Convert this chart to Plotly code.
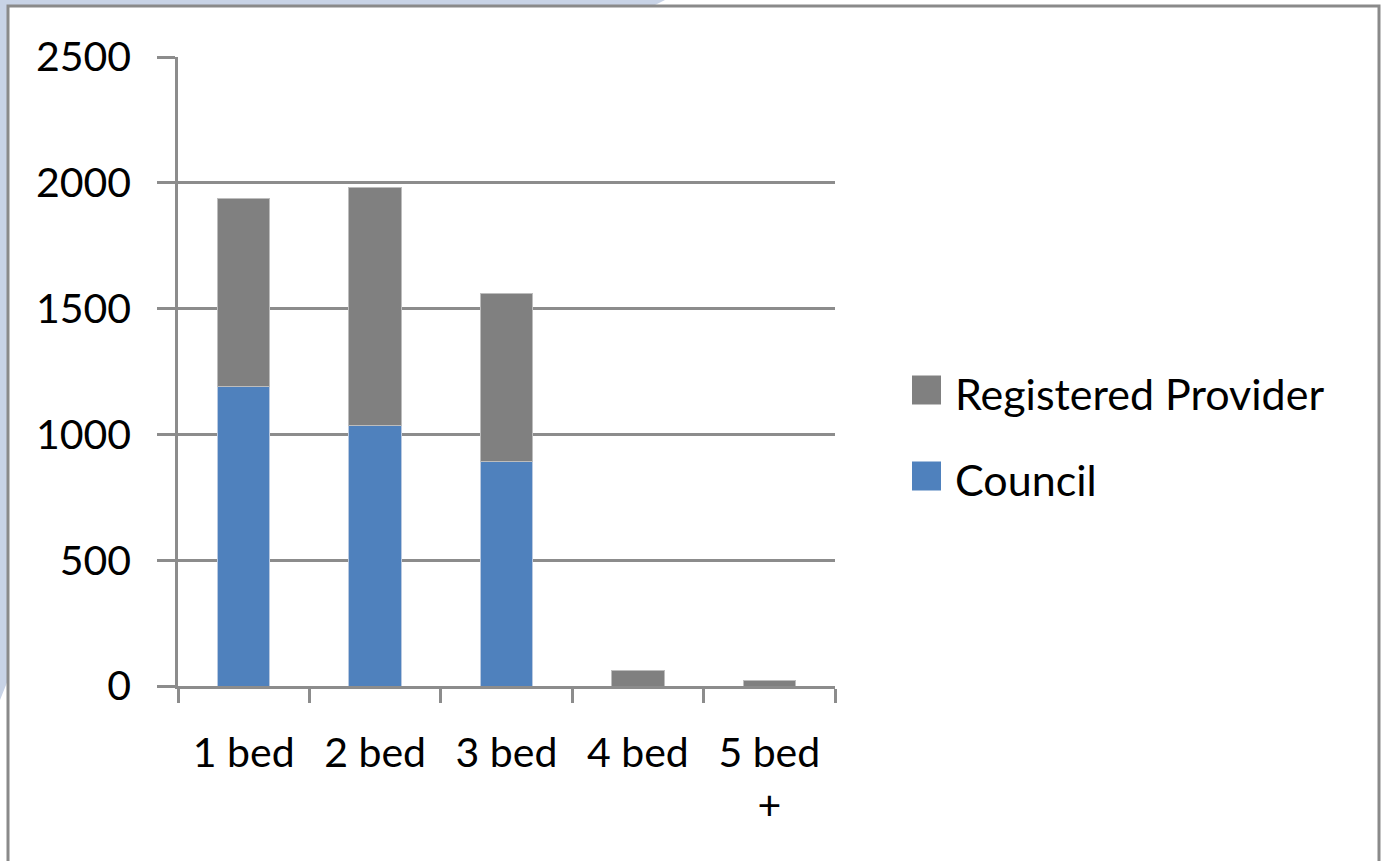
import plotly.graph_objects as go

categories = ["1 bed", "2 bed", "3 bed", "4 bed", "5 bed<br>+"]
council = [1189, 1034, 891, 0, 0]
registered_provider = [747, 946, 668, 60, 20]
series_names = ["Council", "Registered Provider"]
y_ticks = [0, 500, 1000, 1500, 2000, 2500]

COUNCIL_COLOR = "#4f81bd"
RP_COLOR = "#808080"
GRID = "#8c8c8c"
FONT = "Lato"
FS = 41

W, H = 1386, 861
L, R, T, B = 178, 835, 57, 686


def px(x):
    return (x - L) / (R - L)


def py(y):
    return (B - y) / (B - T)


fig = go.Figure()
fig.add_bar(x=categories, y=council, name=series_names[0],
            marker=dict(color=COUNCIL_COLOR, line=dict(color="#b9c9e0", width=1)),
            showlegend=False)
fig.add_bar(x=categories, y=registered_provider, name=series_names[1],
            marker=dict(color=RP_COLOR, line=dict(color="#bdbdbd", width=1)),
            showlegend=False)

shapes = []
# slide background strips (top-left)
path = (f"M {px(0)},{py(0)} L {px(665)},{py(0)} L {px(655)},{py(5)} L {px(8)},{py(5)} "
        f"L {px(8)},{py(680)} L {px(0)},{py(700)} Z")
shapes.append(dict(type="path", xref="paper", yref="paper", path=path,
                   fillcolor="#c8d3e6", line=dict(width=0), layer="below"))
# chart border
shapes.append(dict(type="rect", xref="paper", yref="paper",
                   x0=px(8), x1=px(1379), y0=py(880), y1=py(6),
                   line=dict(color="#8a8a8a", width=3), fillcolor="rgba(0,0,0,0)", layer="below"))

# manual legend
legend_items = [(series_names[1], RP_COLOR, 390), (series_names[0], COUNCIL_COLOR, 476)]
annotations = []
for name, color, yc in legend_items:
    shapes.append(dict(type="rect", xref="paper", yref="paper",
                       x0=px(912), x1=px(941), y0=py(yc + 14.5), y1=py(yc - 14.5),
                       fillcolor=color, line=dict(width=0)))
    annotations.append(dict(x=px(953), y=py(yc + 3), xref="paper", yref="paper",
                            text=name, showarrow=False, xanchor="left", yanchor="middle",
                            font=dict(family=FONT, size=43, color="black")))

fig.update_layout(
    width=W, height=H,
    margin=dict(l=L, r=W - R, t=T, b=H - B),
    barmode="stack", bargap=0.6,
    paper_bgcolor="white", plot_bgcolor="white",
    font=dict(family=FONT, size=FS, color="black"),
    shapes=shapes, annotations=annotations,
    showlegend=False,
)
fig.update_xaxes(
    showline=True, linecolor=GRID, linewidth=2.5,
    ticks="outside", tickson="boundaries", ticklen=14, tickwidth=2.5, tickcolor=GRID,
    ticklabelstandoff=29, showgrid=False,
    tickfont=dict(family=FONT, size=FS, color="black"),
)
fig.update_yaxes(
    range=[0, 2500], tickvals=y_ticks,
    showline=True, linecolor=GRID, linewidth=2.5,
    showgrid=True, gridcolor=GRID, gridwidth=2.5,
    ticks="outside", ticklen=18, tickwidth=2.5, tickcolor=GRID,
    ticklabelstandoff=18, zeroline=False,
    tickfont=dict(family=FONT, size=FS, color="black"),
)

fig.write_html("out.html", config={"displayModeBar": False},
               post_script="document.body.style.margin='0';document.body.style.padding='0';")
